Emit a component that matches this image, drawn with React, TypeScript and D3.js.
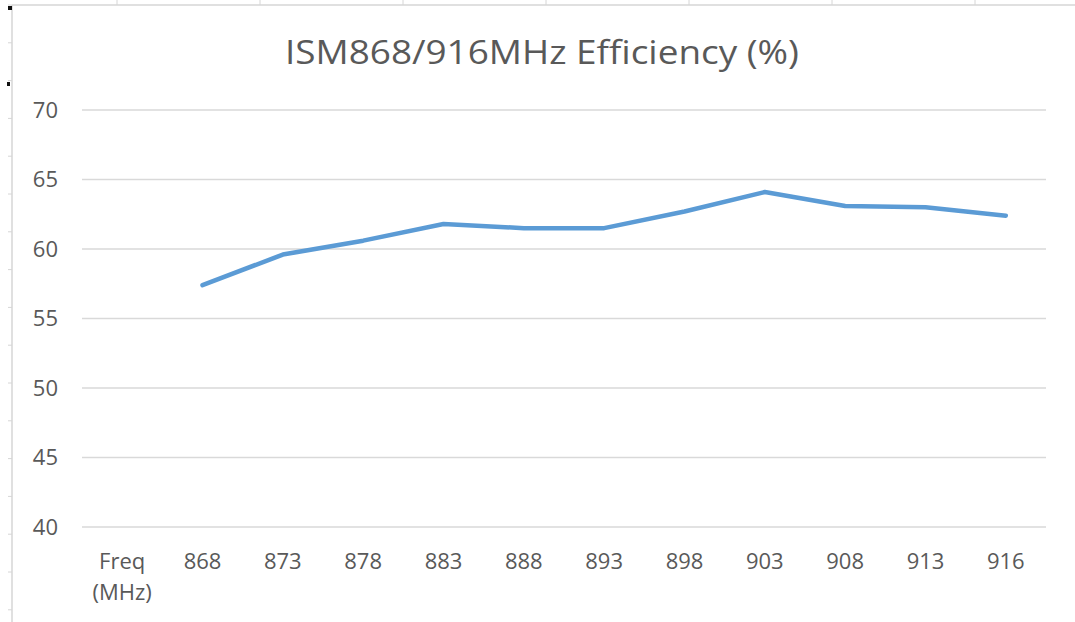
import React from 'react';
import * as d3 from 'd3';

const categories = ['Freq (MHz)', '868', '873', '878', '883', '888', '893', '898', '903', '908', '913', '916'];
const efficiency: (number | null)[] = [null, 57.4, 59.6, 60.6, 61.8, 61.5, 61.5, 62.7, 64.1, 63.1, 63.0, 62.4];
const yTicks = [40, 45, 50, 55, 60, 65, 70];
const title = 'ISM868/916MHz Efficiency (%)';

const W = 1075;
const H = 622;
const FONT = "'Open Sans', 'Noto Sans', sans-serif";

const App: React.FC = () => {
  const x = d3.scaleBand<string>().domain(categories).range([82, 1046]);
  const y = d3.scaleLinear().domain([40, 70]).range([527, 110]);

  const points = categories.map((c, i) => ({ c, v: efficiency[i] }));
  const line = d3.line<{ c: string; v: number | null }>()
    .defined(d => d.v !== null)
    .x(d => (x(d.c) ?? 0) + x.bandwidth() / 2)
    .y(d => y(d.v as number));

  // worksheet grid peeking out behind the chart
  const colTicks = [117, 260, 403, 546, 689, 832, 975];
  const rowTicks = d3.range(0, 17).map(i => 5 + i * 37.8);

  return (
    <div style={{ position: 'fixed', left: 0, top: 0, width: W, height: H, background: '#fff' }}>
      <svg width={W} height={H} style={{ display: 'block' }}>
        <rect width={W} height={H} fill="#fff" />
        <line x1={12} x2={W} y1={5} y2={5} stroke="#d6d6d6" strokeWidth={1.5} />
        <line x1={12} x2={12} y1={5} y2={H} stroke="#d6d6d6" strokeWidth={1.5} />
        {colTicks.map(t => (
          <line key={t} x1={t} x2={t} y1={0} y2={5} stroke="#d6d6d6" strokeWidth={1} />
        ))}
        {rowTicks.map(t => (
          <line key={t} x1={8} x2={12} y1={t} y2={t} stroke="#d6d6d6" strokeWidth={1} />
        ))}
        <rect x={8} y={6} width={4} height={4} fill="#111" />
        <rect x={7} y={82} width={3} height={4} fill="#111" />

        <text x={542} y={64} textAnchor="middle" fontFamily={FONT} fontSize={33}
          fill="#595959" textLength={514} lengthAdjust="spacingAndGlyphs">{title}</text>

        {yTicks.map(t => (
          <g key={t}>
            <line x1={82} x2={1046} y1={y(t)} y2={y(t)} stroke="#d9d9d9" strokeWidth={1.5} />
            <text x={58} y={y(t)} dy="0.35em" textAnchor="end" fontFamily={FONT}
              fontSize={22} fill="#595959">{t}</text>
          </g>
        ))}

        {categories.map(c => {
          const cx = (x(c) ?? 0) + x.bandwidth() / 2;
          const parts = c.split(' ');
          return (
            <text key={c} x={cx} y={569} textAnchor="middle" fontFamily={FONT}
              fontSize={22} fill="#595959">
              {parts.map((p, i) => (
                <tspan key={p} x={cx} dy={i === 0 ? 0 : 31}>{p}</tspan>
              ))}
            </text>
          );
        })}

        <path d={line(points) ?? ''} fill="none" stroke="#5b9bd5" strokeWidth={4.5}
          strokeLinejoin="round" strokeLinecap="round" />
      </svg>
    </div>
  );
};

export default App;
